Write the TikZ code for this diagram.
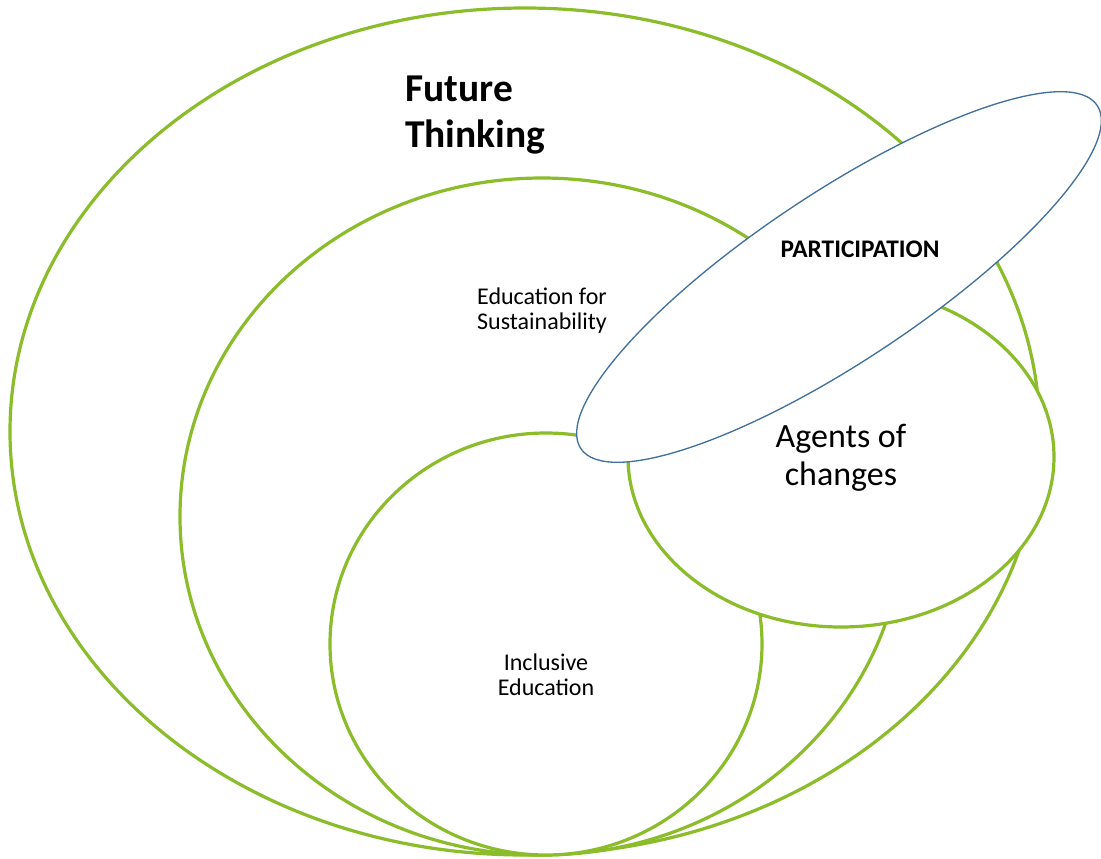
\documentclass[tikz,border=0pt]{standalone}
\usepackage{fontspec}
\setmainfont{Carlito}
\usetikzlibrary{shapes.geometric}
\definecolor{lgreen}{HTML}{8BBC2A}
\definecolor{pblue}{HTML}{41719C}
\begin{document}
\begin{tikzpicture}[x=0.75pt,y=-0.75pt,
  ring/.style={ellipse,draw=lgreen,line width=2.4pt,fill=white,inner sep=0pt},
  partic/.style={ellipse,draw=pblue,line width=1pt,fill=white,inner sep=0pt},
  lbl/.style={inner sep=0pt,text=black}]
\useasboundingbox[fill=white] (0,0) rectangle (1101,858);
\node[ring,minimum width=772.2pt,minimum height=635.25pt] (future) at (524.8,431.5) {};
\node[ring,minimum width=543pt,minimum height=507.75pt] (efs) at (542,516.5) {};
\node[ring,minimum width=324pt,minimum height=316.5pt] (incl) at (546,644) {};
\node[ring,minimum width=319.5pt,minimum height=255pt] (agents) at (841,457) {};
\node[partic,rotate=33.6,minimum width=465pt,minimum height=126pt] (part) at (839,277) {};
\node[lbl,anchor=west,align=left,font=\fontsize{29.6}{34.5}\selectfont\bfseries] (tfut) at (405,115) {Future\\Thinking};
\node[lbl,align=center,font=\fontsize{18}{18.75}\selectfont] (tefs) at (542,311) {Education for\\Sustainability};
\node[lbl,align=center,font=\fontsize{18}{18.75}\selectfont] (tincl) at (546,675) {Inclusive\\Education};
\node[lbl,align=center,font=\fontsize{25.5}{28.7}\selectfont] (tag) at (841,458) {Agents of\\changes};
\node[lbl,font=\fontsize{19}{22}\selectfont\bfseries] (tpart) at (860,249.7) {PARTICIPATION};
\end{tikzpicture}
\end{document}
